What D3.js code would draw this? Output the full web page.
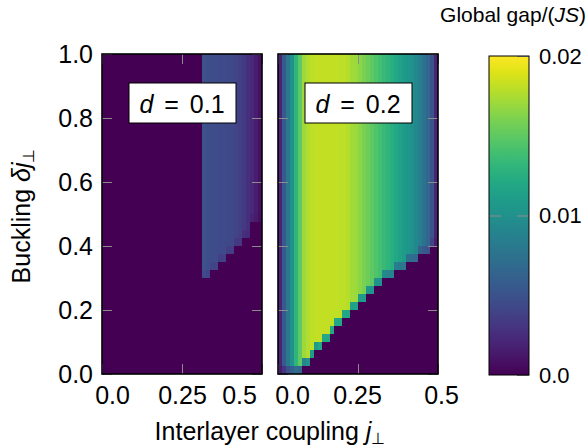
<!doctype html>
<html>
<head>
  <meta charset="utf8"/>
  <style>
    body { margin: 0; background: #fff; }
    svg { font-family: 'Liberation Sans', Arial, sans-serif; }
    .tick text { font-size: 25px; fill: #000; }
    .cbar .tick text { font-size: 22px; }
    .inner .tick line { stroke: #8c8c8c; }
    .inner .domain { display: none; }
  </style>
</head>
<body>
  <svg width="587" height="447"></svg>
  <script src="https://d3js.org/d3.v7.min.js"></script>
  <script>

    // axis ticks
    var jTicks = [0, 0.25, 0.5];
    var deltaTicks = [0, 0.2, 0.4, 0.6, 0.8, 1.0];
    var gapTicks = [0, 0.01, 0.02];
    var panelLabels = ['0.1', '0.2'];

    // gap per column of j (40 columns of width 0.0125, from j = 0 to 0.5)
    var gapD01 = [
      0, 0, 0, 0, 0, 0, 0, 0, 0, 0,
      0, 0, 0, 0, 0, 0, 0, 0, 0, 0,
      0, 0, 0, 0, 0, 0.0050, 0.0047, 0.0046, 0.0046, 0.0045,
      0.0045, 0.0044, 0.0043, 0.0040, 0.0037, 0.0033, 0.0028, 0.0022, 0.0016, 0.0008
    ];
    // lowest buckling at which the gap opens, per column
    var openD01 = [
      1, 1, 1, 1, 1, 1, 1, 1, 1, 1,
      1, 1, 1, 1, 1, 1, 1, 1, 1, 1,
      1, 1, 1, 1, 1, 0.300, 0.300, 0.325, 0.325, 0.350,
      0.350, 0.375, 0.375, 0.400, 0.400, 0.425, 0.425, 0.475, 0.475, 0.475
    ];
    // gap in the first open cell, right at the boundary
    var edgeD01 = [
      0, 0, 0, 0, 0, 0, 0, 0, 0, 0,
      0, 0, 0, 0, 0, 0, 0, 0, 0, 0,
      0, 0, 0, 0, 0, 0.0045, 0.0042, 0.0040, 0.0040, 0.0038,
      0.0038, 0.0037, 0.0036, 0.0034, 0.0032, 0.0028, 0.0024, 0.0019, 0.0014, 0.0007
    ];

    var gapD02 = [
      0.0020, 0.0055, 0.0080, 0.0100, 0.0130, 0.0150, 0.0170, 0.0176, 0.0180, 0.0181,
      0.0182, 0.0182, 0.0182, 0.0182, 0.0181, 0.0180, 0.0180, 0.0178, 0.0172, 0.0170,
      0.0165, 0.0160, 0.0155, 0.0150, 0.0145, 0.0140, 0.0135, 0.0130, 0.0125, 0.0120,
      0.0115, 0.0110, 0.0105, 0.0100, 0.0093, 0.0085, 0.0075, 0.0065, 0.0050, 0.0020
    ];
    var openD02 = [
      0, 0, 0, 0, 0, 0, 0.025, 0.025, 0.050, 0.075,
      0.075, 0.100, 0.100, 0.125, 0.150, 0.150, 0.175, 0.175, 0.200, 0.200,
      0.225, 0.225, 0.250, 0.250, 0.275, 0.275, 0.300, 0.300, 0.300, 0.325,
      0.325, 0.325, 0.350, 0.350, 0.350, 0.375, 0.375, 0.375, 0.400, 0.400
    ];
    var edgeD02 = [
      0.0015, 0.0030, 0.0050, 0.0060, 0.0070, 0.0065, 0.0090, 0.0100, 0.0110, 0.0110,
      0.0120, 0.0120, 0.0120, 0.0120, 0.0120, 0.0120, 0.0120, 0.0120, 0.0115, 0.0115,
      0.0110, 0.0110, 0.0105, 0.0105, 0.0100, 0.0100, 0.0095, 0.0090, 0.0090, 0.0085,
      0.0080, 0.0080, 0.0075, 0.0070, 0.0068, 0.0062, 0.0055, 0.0050, 0.0040, 0.0015
    ];

    var jEdges = d3.range(41).map(function(i) { return i * 0.0125; });
    var deltaEdges = d3.range(41).map(function(k) { return k * 0.025; });

    var svg = d3.select('svg');
    var plotTop = 54, ph = 320, pw = 160;
    var panels = [
      {x0: 102, gap: gapD01, open: openD01, edge: edgeD01, label: panelLabels[0], dx: [10, 0, -23]},
      {x0: 278, gap: gapD02, open: openD02, edge: edgeD02, label: panelLabels[1], dx: [14, -1, 3]}
    ];

    var y = d3.scaleLinear().domain([0, 1]).range([plotTop + ph, plotTop]);
    var color = d3.scaleSequential(d3.interpolateViridis).domain([0, 0.02]);

    panels.forEach(function(p, pi) {
      var x = d3.scaleLinear().domain([0, 0.5]).range([p.x0, p.x0 + pw]);
      var g = svg.append('g');

      var cells = [];
      p.gap.forEach(function(v, i) {
        deltaEdges.slice(0, -1).forEach(function(d, k) {
          var val = 0;
          if (Math.abs(d - p.open[i]) < 1e-9) val = p.edge[i];
          else if (d > p.open[i]) val = v;
          cells.push({i: i, k: k, v: val});
        });
      });

      g.selectAll('rect.cell')
        .data(cells)
        .enter().append('rect')
          .attr('class', 'cell')
          .attr('x', function(c) { return x(jEdges[c.i]); })
          .attr('y', function(c) { return y(deltaEdges[c.k + 1]); })
          .attr('width', function(c) { return x(jEdges[c.i + 1]) - x(jEdges[c.i]); })
          .attr('height', function(c) { return y(deltaEdges[c.k]) - y(deltaEdges[c.k + 1]); })
          .attr('fill', function(c) { return color(c.v); })
          .attr('shape-rendering', 'crispEdges');

      // inner grey ticks
      g.append('g').attr('class', 'inner')
        .attr('transform', 'translate(' + p.x0 + ',0)')
        .call(d3.axisLeft(y).tickValues(deltaTicks).tickSize(-10).tickPadding(9)
          .tickFormat(pi === 0 ? d3.format('.1f') : ''));
      g.append('g').attr('class', 'inner')
        .attr('transform', 'translate(' + (p.x0 + pw) + ',0)')
        .call(d3.axisRight(y).tickValues(deltaTicks).tickSize(-10).tickFormat(''));
      g.append('g').attr('class', 'inner')
        .attr('transform', 'translate(0,' + plotTop + ')')
        .call(d3.axisTop(x).tickValues(jTicks).tickSize(-10).tickFormat(''));
      var xb = g.append('g').attr('class', 'inner')
        .attr('transform', 'translate(0,' + (plotTop + ph) + ')')
        .call(d3.axisBottom(x).tickValues(jTicks).tickSize(-10).tickPadding(12)
          .tickFormat(function(d) { return d === 0.25 ? '0.25' : d3.format('.1f')(d); }));
      xb.selectAll('.tick text').attr('dx', function(d, i) { return p.dx[i]; });

      g.append('rect')
        .attr('x', p.x0).attr('y', plotTop)
        .attr('width', pw).attr('height', ph)
        .attr('fill', 'none').attr('stroke', '#000').attr('stroke-width', 1.6);

      // d = ... box
      var box = g.append('g').attr('transform', 'translate(' + (p.x0 + 27) + ',' + (plotTop + 29) + ')');
      box.append('rect')
        .attr('width', 107).attr('height', 40)
        .attr('fill', '#fff').attr('stroke', '#000').attr('stroke-width', 1);
      var t = box.append('text')
        .attr('x', 53).attr('y', 30)
        .attr('text-anchor', 'middle')
        .style('font-size', '25px');
      t.append('tspan').style('font-style', 'italic').text('d');
      t.append('tspan').attr('dx', 4).text(' =');
      t.append('tspan').attr('dx', 4).text(' ' + p.label);
    });

    // colour bar
    var cb = {x0: 489, w: 40, y0: 56, y1: 375};
    var cy = d3.scaleLinear().domain([0, 0.02]).range([cb.y1, cb.y0]);
    var grad = svg.append('defs').append('linearGradient')
      .attr('id', 'vir').attr('x1', 0).attr('y1', 1).attr('x2', 0).attr('y2', 0);
    grad.selectAll('stop')
      .data(d3.range(0, 1.0001, 0.05))
      .enter().append('stop')
        .attr('offset', function(d) { return d; })
        .attr('stop-color', function(d) { return d3.interpolateViridis(d); });
    svg.append('rect')
      .attr('x', cb.x0).attr('y', cb.y0)
      .attr('width', cb.w).attr('height', cb.y1 - cb.y0)
      .attr('fill', 'url(#vir)');
    svg.append('g').attr('class', 'inner')
      .attr('transform', 'translate(' + cb.x0 + ',0)')
      .call(d3.axisLeft(cy).tickValues([0.01]).tickSize(-12).tickFormat(''));
    svg.append('g').attr('class', 'inner cbar')
      .attr('transform', 'translate(' + (cb.x0 + cb.w) + ',0)')
      .call(d3.axisRight(cy).tickValues(gapTicks).tickSize(-12).tickPadding(10)
        .tickFormat(function(d) { return d === 0 ? '0.0' : d3.format('.2f')(d); }));
    svg.append('rect')
      .attr('x', cb.x0).attr('y', cb.y0)
      .attr('width', cb.w).attr('height', cb.y1 - cb.y0)
      .attr('fill', 'none').attr('stroke', '#000').attr('stroke-width', 1);

    // titles
    var ct = svg.append('text')
      .attr('x', 586).attr('y', 22)
      .attr('text-anchor', 'end')
      .style('font-size', '21px');
    ct.append('tspan').text('Global gap/(');
    ct.append('tspan').style('font-style', 'italic').text('JS');
    ct.append('tspan').text(')');

    var xl = svg.append('text')
      .attr('x', 270).attr('y', 440)
      .attr('text-anchor', 'middle')
      .style('font-size', '25px');
    xl.append('tspan').text('Interlayer coupling ');
    xl.append('tspan').style('font-style', 'italic').text('j');
    xl.append('tspan').attr('dy', 4).style('font-size', '16px').text('\u22a5');

    var yl = svg.append('text')
      .attr('transform', 'translate(30,216) rotate(-90)')
      .attr('text-anchor', 'middle')
      .style('font-size', '25px');
    yl.append('tspan').text('Buckling ');
    yl.append('tspan').style('font-style', 'italic').text('\u03b4j');
    yl.append('tspan').attr('dy', 4).style('font-size', '16px').text('\u22a5');

  </script>
</body>
</html>
